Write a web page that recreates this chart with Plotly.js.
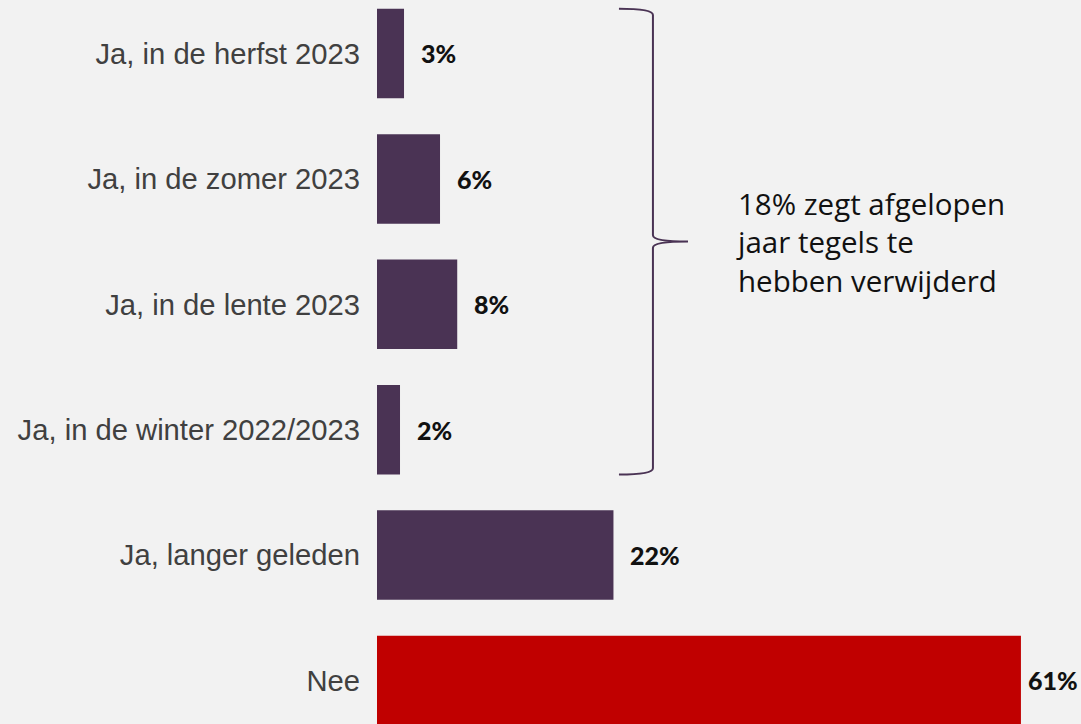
<!DOCTYPE html>
<html>
<head>
<meta charset="utf-8">
<script src="https://cdn.plot.ly/plotly-3.0.1.min.js"></script>
<style>html,body{margin:0;padding:0;background:#f2f2f2;}#chart{width:1081px;height:724px;}</style>
</head>
<body>
<div id="chart"></div>
<script>
const categories = ["Ja, in de herfst 2023", "Ja, in de zomer 2023", "Ja, in de lente 2023", "Ja, in de winter 2022/2023", "Ja, langer geleden", "Nee"];
const values = [2.56, 5.97, 7.6, 2.18, 22.4, 61];
const valueLabels = ["3%", "6%", "8%", "2%", "22%", "61%"];
const barColors = ["#4a3354", "#4a3354", "#4a3354", "#4a3354", "#4a3354", "#c00000"];
const bracketText = "18% zegt afgelopen<br>jaar tegels te<br>hebben verwijderd";

const idx = categories.map((c, i) => i);
const barWidth = 0.714;

const trace = {
  type: "bar",
  orientation: "h",
  x: values,
  y: idx,
  width: barWidth,
  marker: {color: barColors, line: {width: 0}},
  hoverinfo: "skip"
};

const annotations = values.map((v, i) => ({
  x: v, y: i, xref: "x", yref: "y",
  text: valueLabels[i],
  showarrow: false,
  xanchor: "left", yanchor: "middle",
  xshift: v > 50 ? 5 : 15,
  font: {family: "Lato, sans-serif", size: 25, color: "#111111", weight: 900}
}));

// bracket spanning the first four bars
const yTop = 0 - barWidth / 2, yBot = 3 + barWidth / 2, yMid = (yTop + yBot) / 2;
const bx0 = 22.92, bx1 = 26.14, bx2 = 29.46, d = 0.05;
const path = `M ${bx0},${yTop} Q ${bx1},${yTop} ${bx1},${yTop + d} L ${bx1},${yMid - d} Q ${bx1},${yMid} ${bx2},${yMid} Q ${bx1},${yMid} ${bx1},${yMid + d} L ${bx1},${yBot - d} Q ${bx1},${yBot} ${bx0},${yBot}`;

annotations.push({
  x: 33.85, y: yMid, xref: "x", yref: "y",
  text: bracketText, showarrow: false,
  xanchor: "left", yanchor: "middle", align: "left",
  font: {family: "Open Sans, sans-serif", size: 29.5, color: "#111111"}
});

const layout = {
  width: 1081, height: 724,
  margin: {l: 377, r: 0, t: 0, b: 0, pad: 0},
  paper_bgcolor: "#f2f2f2", plot_bgcolor: "#f2f2f2",
  showlegend: false,
  xaxis: {range: [0, 66.69], visible: false, fixedrange: true},
  yaxis: {
    range: [5.347, -0.4266],
    tickvals: idx, ticktext: categories,
    showgrid: false, zeroline: false, showline: false, ticks: "",
    ticklabelstandoff: 16,
    tickfont: {family: "Liberation Sans, Arial, sans-serif", size: 29.2, color: "#404040"},
    fixedrange: true
  },
  shapes: [{type: "path", xref: "x", yref: "y", path: path, line: {color: "#4a3354", width: 2}}],
  annotations: annotations
};

Plotly.newPlot("chart", [trace], layout, {displayModeBar: false, staticPlot: true});
</script>
</body>
</html>
